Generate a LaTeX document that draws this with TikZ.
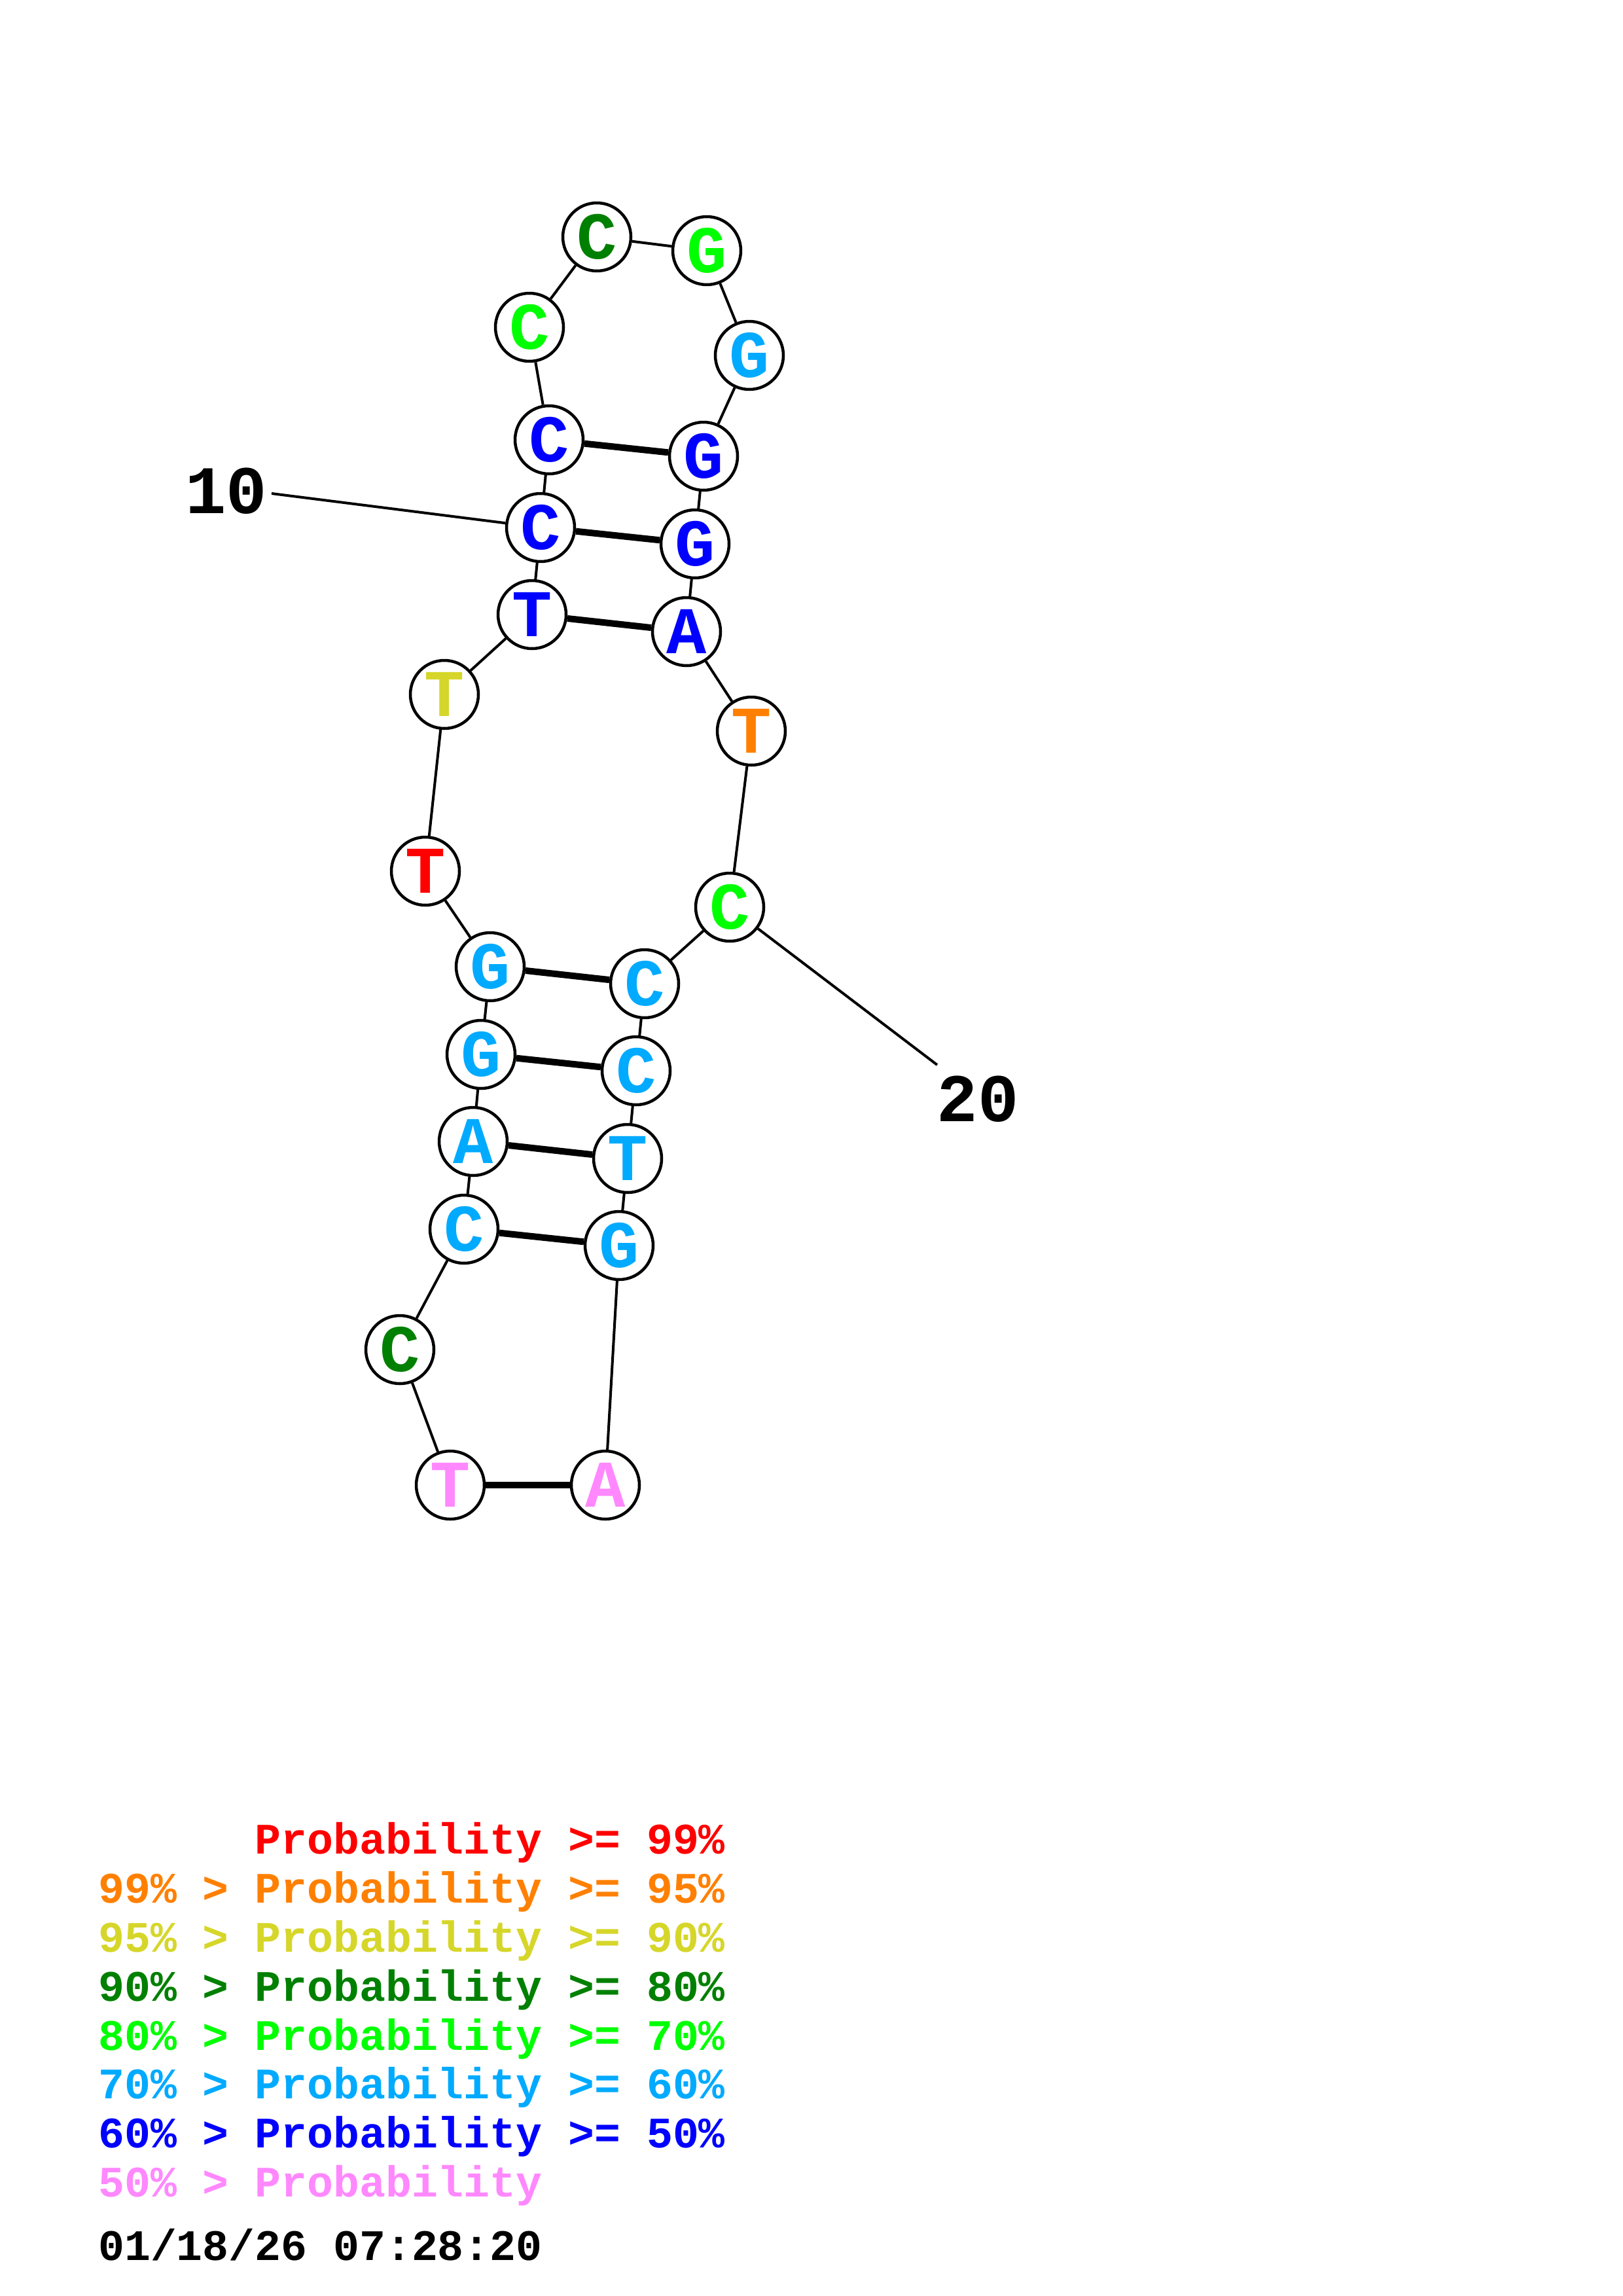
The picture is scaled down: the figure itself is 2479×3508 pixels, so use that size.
\documentclass[tikz,border=0pt]{standalone}
\usepackage{fontspec}
\newfontfamily\monofnt{Liberation Mono}
\definecolor{cRed}{RGB}{255,0,0}
\definecolor{cOrange}{RGB}{255,128,0}
\definecolor{cYellow}{RGB}{214,214,42}
\definecolor{cDkGreen}{RGB}{0,128,0}
\definecolor{cGreen}{RGB}{0,255,0}
\definecolor{cCyan}{RGB}{0,170,255}
\definecolor{cBlue}{RGB}{0,0,255}
\definecolor{cPink}{RGB}{255,136,255}
\tikzset{
  nt/.style={circle, draw=black, line width=4.5pt, fill=white, minimum size=104pt, inner sep=0pt,
    font=\monofnt\bfseries\fontsize{102}{102}\selectfont},
  bb/.style={line width=4pt},
  bpair/.style={line width=10pt},
  numlab/.style={inner sep=0pt, font=\monofnt\bfseries\fontsize{104}{104}\selectfont},
  lg/.style={anchor=base west, inner sep=0pt, font=\monofnt\bfseries\fontsize{66.5}{70}\selectfont},
}
\begin{document}
\frenchspacing
\begin{tikzpicture}[x=1pt,y=-1pt]
\useasboundingbox[fill=white] (0,0) rectangle (2479,3508);
% nucleotides
\node[nt, text=cPink]    (n1)  at (688,2269) {T};
\node[nt, text=cDkGreen] (n2)  at (611,2062) {C};
\node[nt, text=cCyan]    (n3)  at (709,1878) {C};
\node[nt, text=cCyan]    (n4)  at (723,1744) {A};
\node[nt, text=cCyan]    (n5)  at (735,1611) {G};
\node[nt, text=cCyan]    (n6)  at (749,1477) {G};
\node[nt, text=cRed]     (n7)  at (650,1331) {T};
\node[nt, text=cYellow]  (n8)  at (679,1061) {T};
\node[nt, text=cBlue]    (n9)  at (813,939)  {T};
\node[nt, text=cBlue]    (n10) at (826,806)  {C};
\node[nt, text=cBlue]    (n11) at (839,672)  {C};
\node[nt, text=cGreen]   (n12) at (809,500)  {C};
\node[nt, text=cDkGreen] (n13) at (912,362)  {C};
\node[nt, text=cGreen]   (n14) at (1080,383) {G};
\node[nt, text=cCyan]    (n15) at (1145,543) {G};
\node[nt, text=cBlue]    (n16) at (1075,697) {G};
\node[nt, text=cBlue]    (n17) at (1062,831) {G};
\node[nt, text=cBlue]    (n18) at (1049,965) {A};
\node[nt, text=cOrange]  (n19) at (1148,1117) {T};
\node[nt, text=cGreen]   (n20) at (1115,1386) {C};
\node[nt, text=cCyan]    (n21) at (985,1503) {C};
\node[nt, text=cCyan]    (n22) at (972,1636) {C};
\node[nt, text=cCyan]    (n23) at (959,1770) {T};
\node[nt, text=cCyan]    (n24) at (946,1903) {G};
\node[nt, text=cPink]    (n25) at (925,2269) {A};
% backbone
\foreach \a/\b in {1/2,2/3,3/4,4/5,5/6,6/7,7/8,8/9,9/10,10/11,11/12,12/13,13/14,14/15,15/16,16/17,17/18,18/19,19/20,20/21,21/22,22/23,23/24,24/25}
  \draw[bb] (n\a) -- (n\b);
% base pairs
\foreach \a/\b in {1/25,3/24,4/23,5/22,6/21,9/18,10/17,11/16}
  \draw[bpair] (n\a) -- (n\b);
% numbering
\node[numlab] (l10) at (346,750) {10};
\coordinate (l10e) at (415,754);
\draw[bb] (l10e) -- (n10);
\node[numlab] (l20) at (1494,1679) {20};
\coordinate (l20e) at (1432,1627);
\draw[bb] (l20e) -- (n20);
% legend
\node[lg, text=cRed]     (g1) at (150,2832) {\phantom{99\% > }Probability >= 99\%};
\node[lg, text=cOrange]  (g2) at (150,2907) {99\% > Probability >= 95\%};
\node[lg, text=cYellow]  (g3) at (150,2982) {95\% > Probability >= 90\%};
\node[lg, text=cDkGreen] (g4) at (150,3057) {90\% > Probability >= 80\%};
\node[lg, text=cGreen]   (g5) at (150,3132) {80\% > Probability >= 70\%};
\node[lg, text=cCyan]    (g6) at (150,3206) {70\% > Probability >= 60\%};
\node[lg, text=cBlue]    (g7) at (150,3281) {60\% > Probability >= 50\%};
\node[lg, text=cPink]    (g8) at (150,3356) {50\% > Probability};
\node[lg, text=black]    (g9) at (150,3453) {01/18/26 07:28:20};
\end{tikzpicture}
\end{document}
